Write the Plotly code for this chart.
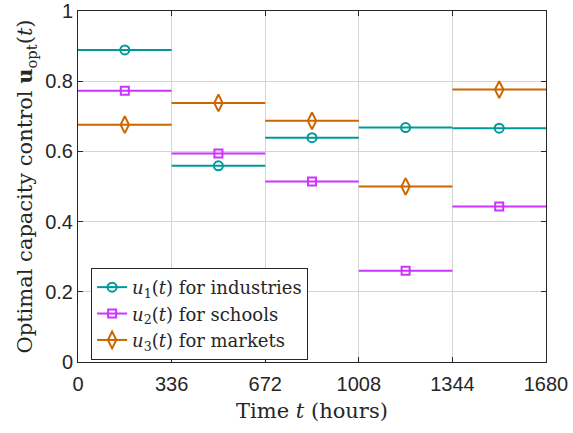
import plotly.graph_objects as go

# Data
boundaries = [0, 336, 672, 1008, 1344, 1680]
u1_industries = [0.889, 0.559, 0.639, 0.668, 0.666]
u2_schools = [0.773, 0.594, 0.514, 0.260, 0.443]
u3_markets = [0.676, 0.738, 0.687, 0.500, 0.776]
series_names = ["<i>u</i><sub>1</sub>(<i>t</i>) for industries",
                "<i>u</i><sub>2</sub>(<i>t</i>) for schools",
                "<i>u</i><sub>3</sub>(<i>t</i>) for markets"]
x_ticks = [0, 336, 672, 1008, 1344, 1680]
y_ticks = [0, 0.2, 0.4, 0.6, 0.8, 1]

colors = ["#009999", "#CC33FF", "#CC6600"]
symbols = ["circle-open", "square-open", "diamond-tall-open"]
msizes = [9, 8, 12]

SERIF = "DejaVu Serif, Liberation Serif, serif"
SANS = "Liberation Sans, Arial, sans-serif"

fig = go.Figure()
for vals, name, col, sym, ms in zip([u1_industries, u2_schools, u3_markets],
                                    series_names, colors, symbols, msizes):
    xs, ys, mx, my = [], [], [], []
    for i, v in enumerate(vals):
        a, b = boundaries[i], boundaries[i + 1]
        xs += [a, b, None]
        ys += [v, v, None]
        mx.append((a + b) / 2)
        my.append(v)
    fig.add_trace(go.Scatter(x=xs, y=ys, mode="lines", line=dict(color=col, width=2),
                             showlegend=False, hoverinfo="skip"))
    fig.add_trace(go.Scatter(x=mx, y=my, mode="markers",
                             marker=dict(symbol=sym, size=ms, color=col, line=dict(width=2, color=col)),
                             showlegend=False))
    fig.add_trace(go.Scatter(x=[None], y=[None], mode="lines+markers", name=name,
                             line=dict(color=col, width=2),
                             marker=dict(symbol=sym, size=ms, color=col, line=dict(width=2, color=col))))

axis_common = dict(showgrid=True, gridcolor="#d4d4d4", gridwidth=1,
                   showline=True, linecolor="#262626", linewidth=1, mirror="ticks",
                   ticks="inside", ticklen=5, tickcolor="#262626", zeroline=False,
                   ticklabeloverflow="allow",
                   tickfont=dict(family=SANS, size=20, color="#262626"))

fig.update_layout(
    width=573, height=433,
    margin=dict(l=78, r=27, t=11, b=71),
    plot_bgcolor="white", paper_bgcolor="white",
    xaxis=dict(range=[0, 1680], tickvals=x_ticks, ticktext=[str(t) for t in x_ticks],
               ticklabelstandoff=4,
               title=dict(text="Time <i>t</i> (hours)", font=dict(family=SERIF, size=21, color="#262626"),
                          standoff=9),
               automargin=False, **axis_common),
    yaxis=dict(range=[0, 1], tickvals=y_ticks, ticktext=["0", "0.2", "0.4", "0.6", "0.8", "1"],
               title=dict(text="Optimal capacity control <b>u</b><sub>opt</sub>(<i>t</i>)",
                          font=dict(family=SERIF, size=21, color="#262626"), standoff=6),
               automargin=False, **axis_common),
    legend=dict(x=0.028, y=0.268, xanchor="left", yanchor="top",
                bgcolor="white", bordercolor="#262626", borderwidth=1,
                font=dict(family=SERIF, size=18, color="#262626"),
                tracegroupgap=0),
)

fig.write_html("out.html", config={"displayModeBar": False},
               post_script="document.body.style.margin='0';")
